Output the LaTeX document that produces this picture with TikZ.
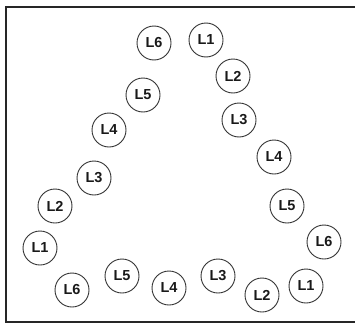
\documentclass[tikz,border=0pt]{standalone}
\usepackage{fontspec}
\setsansfont{Liberation Sans}
\begin{document}
\begin{tikzpicture}[x=1pt,y=-1pt,
  lamp/.style={circle,draw=black!80,line width=0.9pt,minimum size=34pt,inner sep=0pt,
    font=\sffamily\bfseries\fontsize{14.5}{14.5}\selectfont,text=black!90},
  frame/.style={line width=2pt,draw=black!85}]
\useasboundingbox (0,0) rectangle (355,324);
\draw[frame] (356,7) -- (6,7) -- (6,322) -- (356,322);
% left side going up
\node[lamp] (a1) at (40,248) {L1};
\node[lamp] (a2) at (55,206) {L2};
\node[lamp] (a3) at (94,178) {L3};
\node[lamp] (a4) at (109,130) {L4};
\node[lamp] (a5) at (143,95) {L5};
\node[lamp] (a6) at (154,43) {L6};
% right side going down
\node[lamp] (b1) at (206,40) {L1};
\node[lamp] (b2) at (233,76) {L2};
\node[lamp] (b3) at (239,120) {L3};
\node[lamp] (b4) at (274,157) {L4};
\node[lamp] (b5) at (287,206) {L5};
\node[lamp] (b6) at (324,242) {L6};
% bottom
\node[lamp] (c6) at (72,290) {L6};
\node[lamp] (c5) at (122,276) {L5};
\node[lamp] (c4) at (169,288) {L4};
\node[lamp] (c3) at (218,276) {L3};
\node[lamp] (c2) at (262,295) {L2};
\node[lamp] (c1) at (306,286) {L1};
\end{tikzpicture}
\end{document}
